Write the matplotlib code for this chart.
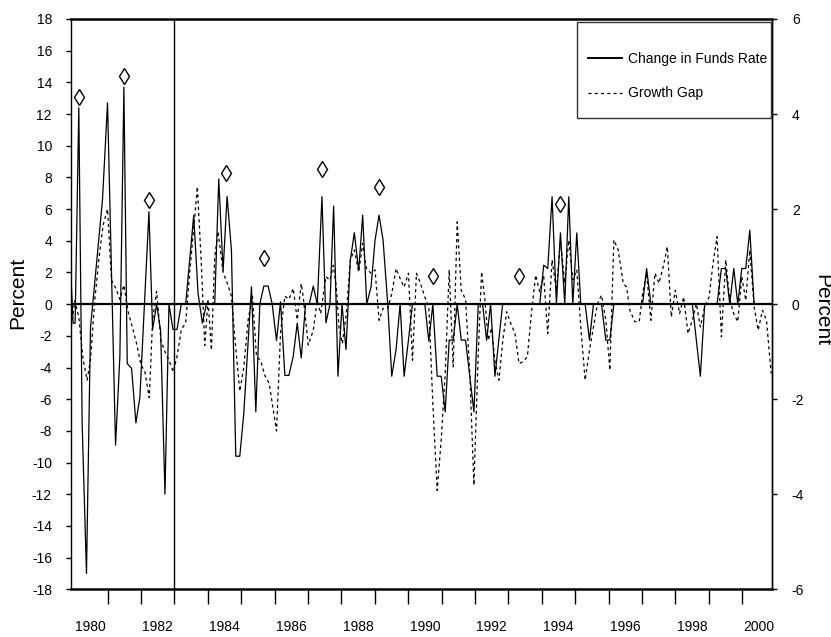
import matplotlib
matplotlib.use("Agg")
import matplotlib.pyplot as plt
from matplotlib.lines import Line2D
from matplotlib.patches import Rectangle
from matplotlib.ticker import NullFormatter

# ---------------- data ----------------
# Change in federal funds rate (left axis, percent), by meeting date
funds_dates = [
    1979.90, 1979.97, 1980.03, 1980.14, 1980.24, 1980.37, 1980.49, 1980.85, 1981.00, 1981.24,
    1981.37, 1981.49, 1981.59, 1981.72, 1981.85, 1981.97, 1982.24, 1982.35, 1982.47, 1982.59,
    1982.72, 1982.84, 1982.96, 1983.08,
    1983.21, 1983.34, 1983.58, 1983.71, 1983.84, 1983.96, 1984.08, 1984.21, 1984.33, 1984.46,
    1984.58, 1984.71, 1984.84, 1984.96, 1985.08, 1985.31, 1985.44, 1985.56, 1985.68, 1985.81,
    1985.93, 1986.06, 1986.18, 1986.31, 1986.43, 1986.56, 1986.68, 1986.80, 1986.93,
    1987.04, 1987.16, 1987.28, 1987.42, 1987.54, 1987.66, 1987.77, 1987.90, 1988.02, 1988.14,
    1988.27, 1988.39, 1988.52, 1988.64, 1988.76, 1988.89, 1989.01, 1989.13, 1989.25, 1989.39,
    1989.51, 1989.64, 1989.76, 1989.88, 1990.01, 1990.13, 1990.50, 1990.62, 1990.74, 1990.87,
    1990.99, 1991.11, 1991.23, 1991.35, 1991.47, 1991.59, 1991.72,
    1991.97, 1992.10, 1992.23, 1992.35, 1992.47, 1992.60, 1992.83, 1993.94, 1994.06, 1994.18,
    1994.31, 1994.44, 1994.56, 1994.69, 1994.81, 1994.93, 1995.05, 1995.17, 1995.30, 1995.43,
    1995.55, 1995.79, 1995.92, 1996.04, 1996.16,
    1997.02, 1997.14, 1997.27, 1998.51, 1998.75, 1998.88, 1999.25, 1999.38, 1999.51, 1999.63,
    1999.75, 1999.87, 1999.99, 2000.11, 2000.23, 2000.36, 2000.87,
]
funds_change = [
    2.0, -1.2, -1.2, 12.4, -7.5, -17.0, -1.5, 6.6, 12.7, -8.9,
    -3.3, 13.7, -3.75, -4.06, -7.5, -5.85, 5.83, -1.6, 0.0, -1.7,
    -12.0, 0.0, -1.6, -1.6,
    0.0, 0.0, 5.6, 0.7, -1.2, 0.0, 0.0, 0.0, 7.9, 2.1,
    6.8, 3.4, -9.6, -9.6, -6.9, 1.1, -6.8, 0.0, 1.14, 1.14,
    0.0, -2.3, 0.15, -4.5, -4.5, -3.3, -1.2, -3.4, 0.0,
    0.0, 1.14, 0.0, 6.78, -1.18, 0.0, 6.19, -4.55, 0.0, -2.86,
    2.78, 4.51, 2.11, 5.62, 0.0, 1.09, 4.04, 5.62, 4.04, 0.0,
    -4.55, -2.86, 0.0, -4.55, -2.27, 0.0, 0.0, -2.34, 0.0, -4.55,
    -4.55, -6.8, -2.27, -2.27, 0.0, -2.27, -2.27,
    -6.8, 0.0, 0.0, -2.27, 0.0, -4.55, 0.0, 0.0, 2.46, 2.25,
    6.78, 0.0, 4.5, 0.0, 6.78, 0.0, 4.5, 0.0, 0.0, -2.27,
    0.0, 0.0, -2.27, -2.27, 0.0,
    0.0, 2.25, 0.0, 0.0, -4.55, 0.0, 0.0, 2.25, 2.25, 0.0,
    2.25, 0.0, 2.25, 2.25, 4.67, 0.0, 0.0,
]

# Growth gap (right axis, percent)
gap_dates = [
    1979.89, 1980.02, 1980.14, 1980.27, 1980.39, 1980.49, 1980.62, 1980.75, 1980.87, 1981.00,
    1981.12, 1981.25, 1981.37, 1981.49, 1981.62, 1981.75, 1981.87, 1982.00, 1982.12, 1982.25,
    1982.35, 1982.47, 1982.60, 1982.72, 1982.85, 1982.97, 1983.09, 1983.21, 1983.34, 1983.46,
    1983.59, 1983.69, 1983.81, 1983.91, 1984.01, 1984.11, 1984.21, 1984.31, 1984.46, 1984.59,
    1984.71, 1984.84, 1984.96, 1985.08, 1985.21, 1985.34, 1985.46, 1985.59, 1985.71, 1985.84,
    1986.06, 1986.18, 1986.31, 1986.43, 1986.56, 1986.68, 1986.80, 1986.86,
    1987.01, 1987.16, 1987.28, 1987.38, 1987.54, 1987.66, 1987.76, 1987.85, 1987.93, 1988.03,
    1988.15, 1988.27, 1988.39, 1988.52, 1988.64, 1988.75, 1988.89, 1989.01, 1989.13, 1989.25,
    1989.39, 1989.51, 1989.64, 1989.76, 1989.88, 1990.01, 1990.13, 1990.25, 1990.37, 1990.50,
    1990.62, 1990.74, 1990.87, 1990.99, 1991.11, 1991.23, 1991.35, 1991.47, 1991.59, 1991.72,
    1991.85, 1991.97, 1992.10, 1992.20, 1992.30, 1992.40, 1992.50, 1992.60, 1992.72, 1992.83,
    1992.95, 1993.07, 1993.20, 1993.32, 1993.44, 1993.57, 1993.70, 1993.82, 1993.94, 1994.06,
    1994.18, 1994.31, 1994.44, 1994.56, 1994.69, 1994.81, 1994.93, 1995.05, 1995.17, 1995.30,
    1995.43, 1995.55, 1995.67, 1995.79, 1995.92, 1996.04, 1996.16, 1996.29,
    1996.44, 1996.54, 1996.64, 1996.79, 1996.92, 1997.02, 1997.14, 1997.27, 1997.39, 1997.51,
    1997.64, 1997.76, 1997.88, 1998.00, 1998.13, 1998.25, 1998.38, 1998.51, 1998.63, 1998.75,
    1998.88, 1999.01, 1999.13, 1999.25, 1999.38, 1999.51, 1999.63, 1999.75, 1999.87, 1999.99,
    2000.11, 2000.23, 2000.36, 2000.48, 2000.61, 2000.73, 2000.87,
]
growth_gap = [
    -0.6, 0.07, -0.27, -1.17, -1.6, -1.17, 0.1, 1.0, 1.67, 2.0,
    0.5, 0.33, 0.1, 0.4, -0.17, -0.5, -0.83, -1.27, -1.43, -1.97,
    -0.33, 0.27, -0.77, -1.0, -1.2, -1.43, -1.07, -0.53, -0.4, 0.67,
    1.67, 2.47, 0.83, -0.87, 0.1, -0.97, 1.0, 1.53, 0.67, 0.43,
    0.17, -0.93, -1.83, -1.33, -0.33, 0.17, -1.1, -1.2, -1.5, -1.67,
    -2.67, -0.6, 0.17, 0.1, 0.33, -0.33, 0.43, 0.15,
    -0.86, -0.55, 0.08, -0.2, 0.58, 0.5, 0.82, 0.36, -0.48, -0.83,
    -0.2, 0.93, 1.14, 0.68, 1.28, 0.75, 0.65, 0.72, -0.34, -0.09,
    -0.09, 0.22, 0.75, 0.54, 0.36, 0.65, -1.18, 0.65, 0.44, 0.15,
    -0.06, -2.09, -3.92, -2.86, -1.46, 0.72, -1.32, 1.73, 0.29, 0.1,
    -1.5, -3.81, -1.04, 0.68, 0.08, -0.76, -0.5, -1.2, -1.6, -0.8,
    -0.16, -0.4, -0.62, -1.25, -1.21, -1.11, -0.13, 0.61, 0.26, 0.58,
    -0.62, 0.93, 0.29, 1.35, 0.44, 1.35, 0.51, 0.72, -0.48, -1.6,
    -0.97, -0.48, 0.01, 0.19, -0.34, -1.39, 1.35, 1.14,
    0.44, 0.36, -0.13, -0.37, -0.37, 0.22, 0.65, -0.34, 0.65, 0.44,
    0.79, 1.21, -0.27, 0.29, -0.2, 0.15, -0.62, -0.34, 0.01, -0.48,
    -0.06, 0.15, 0.86, 1.42, -0.69, 0.93, 0.08, -0.2, -0.37, 0.58,
    0.08, 1.14, -0.06, -0.55, -0.13, -0.34, -1.46,
]

# Diamond markers (left axis)
marker_dates = [1980.14, 1981.49, 1982.24, 1984.56, 1985.68, 1987.42, 1989.13, 1990.74, 1993.32, 1994.56]
marker_values = [13.1, 14.4, 6.6, 8.25, 2.9, 8.5, 7.4, 1.77, 1.77, 6.3]

year_labels = [1980, 1982, 1984, 1986, 1988, 1990, 1992, 1994, 1996, 1998, 2000]
year_ticks = list(range(1981, 2001))
regime_break = 1983.0
x_range = (1979.898, 2000.88)

# ---------------- figure ----------------
plt.rcParams['font.family'] = ['Liberation Sans', 'DejaVu Sans']
plt.rcParams['axes.unicode_minus'] = False
FS = 10

fig = plt.figure(figsize=(8.31, 6.37), dpi=100)
ax = fig.add_axes([0.0851, 0.0749, 0.8433, 0.8953])
ax2 = ax.twinx()

ax.plot(funds_dates, funds_change, color='black', lw=0.9, zorder=3)
ax.plot(marker_dates, marker_values, linestyle='none', marker='d', markersize=8.2,
        markerfacecolor='white', markeredgecolor='black', markeredgewidth=1.0, zorder=4)
ax.axhline(0, color='black', lw=1.6, zorder=2)
ax.axvline(regime_break, color='black', lw=1.0, zorder=2)

ax2.plot(gap_dates, growth_gap, color='black', lw=0.9, linestyle=(0, (2.5, 2.5)))

ax.set_xlim(*x_range)
ax.set_ylim(-18, 18)
ax2.set_ylim(-6, 6)

ax.set_yticks(range(-18, 19, 2))
ax2.set_yticks(range(-6, 7, 2))

ax.set_xticks(year_ticks)
ax.xaxis.set_major_formatter(NullFormatter())
ax.set_xticks([y + 0.5 for y in year_labels], minor=True)
ax.set_xticklabels([str(y) for y in year_labels], minor=True)

ax.tick_params(axis='x', which='major', direction='out', length=10.6, width=1.0)
ax.tick_params(axis='x', which='minor', length=0, pad=22, labelsize=FS)
ax.tick_params(axis='y', direction='out', length=3.6, width=1.0, pad=9.9, labelsize=FS)
ax2.tick_params(axis='y', direction='out', length=3.6, width=1.0, pad=11, labelsize=FS)

for s in ('top', 'bottom'):
    ax.spines[s].set_linewidth(1.8)
for s in ('left', 'right'):
    ax.spines[s].set_linewidth(1.0)
for s in ('top', 'bottom', 'left'):
    ax2.spines[s].set_visible(False)
ax2.spines['right'].set_linewidth(1.0)

ax.set_ylabel('Percent', fontsize=15, rotation=90, va='center', ha='center')
ax.yaxis.set_label_coords(-0.0759, 0.5204)
ax2.set_ylabel('Percent', fontsize=15, rotation=-90, va='center', ha='center')
ax2.yaxis.set_label_coords(1.0716, 0.4897)

# legend box and entries
fig.patches.append(Rectangle((576.7 / 831, 1 - 117.7 / 637), 194 / 831, 95.4 / 637,
                             transform=fig.transFigure, fill=False, edgecolor='#333333',
                             lw=1.0, zorder=5))
handles = [Line2D([], [], color='black', lw=1.4),
           Line2D([], [], color='black', lw=0.9, linestyle=(0, (2.5, 2.5)))]
leg = ax2.legend(handles, ['Change in Funds Rate', 'Growth Gap'], loc='upper left',
                 bbox_to_anchor=(588 / 831, 1 - 52 / 637), bbox_transform=fig.transFigure,
                 frameon=False, fontsize=FS, handlelength=2.42, handletextpad=0.47,
                 labelspacing=1.47, borderpad=0, borderaxespad=0)

fig.savefig('out.png', dpi=100)
